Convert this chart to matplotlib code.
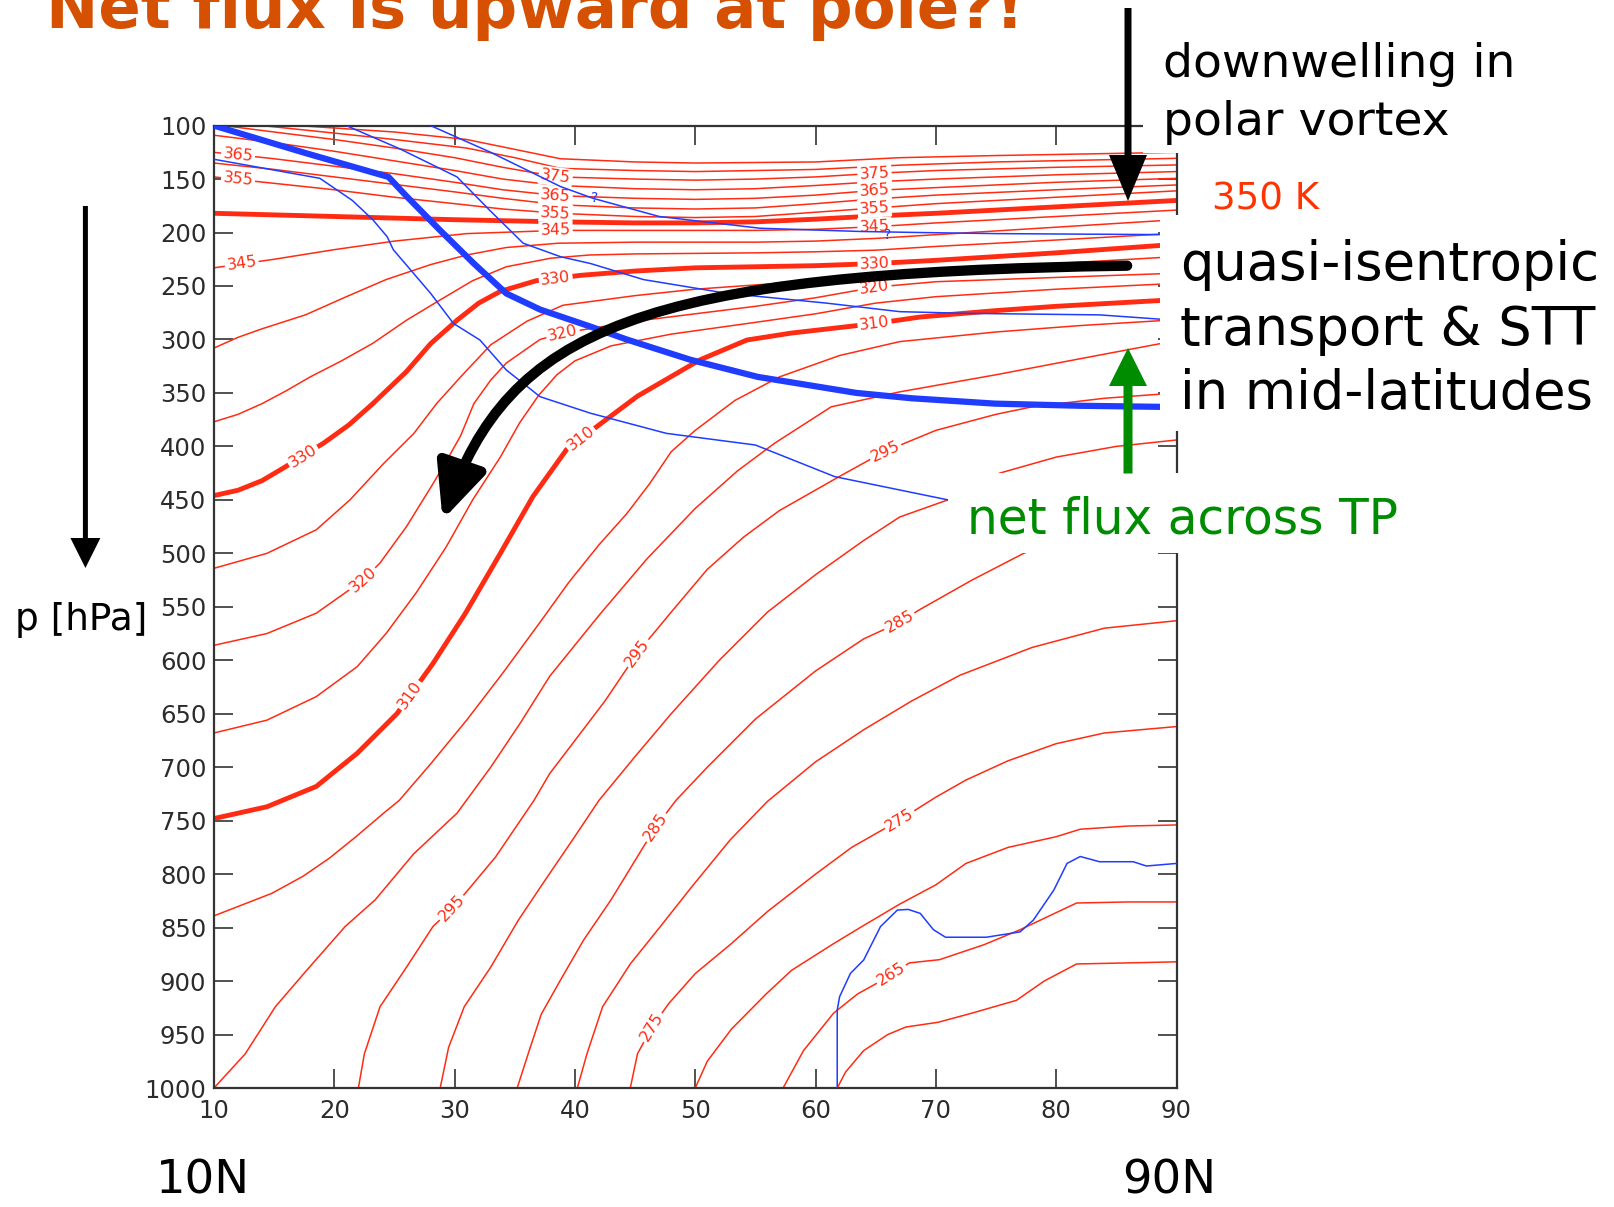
import numpy as np
import matplotlib.pyplot as plt
from matplotlib.path import Path
from matplotlib.patches import FancyArrowPatch, FancyArrow, Rectangle, ArrowStyle
from matplotlib.transforms import Affine2D

# potential temperature (K) contours as (latitude degN, pressure hPa)
theta_385 = [(17, 100), (25, 106), (31, 113), (38.8, 131), (45, 134), (50, 135), (60, 134), (67, 130), (75, 128), (90, 125)]
theta_380 = [(14, 100), (20, 107), (25, 113), (31, 121), (35, 130), (38.8, 140), (45, 142), (50, 143), (60, 141), (67, 137), (75, 134), (90, 130.6)]
theta_375 = [(10.8, 100), (15, 106), (20, 113), (25, 121), (30, 130), (34, 139), (38.6, 148), (45, 150), (50, 151), (55, 150), (60, 148), (65, 144.6), (70, 142), (80, 139), (90, 136.8)]
theta_370 = [(10, 109), (15, 116), (20, 124), (25, 133), (30, 142), (34, 150), (38.6, 156), (45, 159), (50, 160), (55, 159), (60, 156), (65, 152.5), (70, 150), (80, 146), (90, 143)]
theta_365 = [(10, 125), (15, 131), (20, 138), (25, 145), (30, 153), (34, 160), (38.6, 165.5), (45, 168), (50, 169), (55, 168), (60, 165), (65, 160.5), (70, 158), (80, 153), (90, 149.3)]
theta_360 = [(10, 135), (15, 141), (20, 148), (25, 155), (30, 162), (34, 168), (38.6, 174), (45, 177), (50, 178), (55, 177), (60, 173), (65, 168.5), (70, 165), (80, 160), (90, 155.5)]
theta_355 = [(10, 148), (15, 154), (20, 160), (25, 167), (30, 173), (34, 178), (38.6, 182), (45, 185), (50, 186), (55, 185), (60, 181), (65, 177), (70, 173), (80, 167), (90, 161)]
theta_350 = [(10, 182), (15, 183.5), (20, 185), (25, 186.5), (30, 188), (38.6, 190), (45, 191), (50, 191), (55, 190), (60, 187.5), (65, 184.5), (70, 182), (80, 176), (90, 170)]
theta_345 = [(10, 233), (15, 225), (20, 216), (25, 208), (31, 201), (38.6, 198), (45, 198), (50, 198), (55, 198), (60, 197), (65, 194.5), (70, 191), (80, 185), (90, 179)]
theta_340 = [(10, 308), (12, 298), (14, 290), (17.6, 277), (21, 260), (24.3, 244), (28, 230), (31, 221), (34.3, 214), (38.6, 210), (45, 209), (50, 209), (55, 209), (60, 208), (65, 205.5), (70, 202), (80, 195), (90, 188)]
theta_335 = [(10, 377), (12, 370), (14, 360), (16, 348), (18, 335), (20.6, 320), (23.2, 303.6), (26, 282), (28.8, 263), (31.5, 245), (34.3, 232), (38, 224), (41.2, 221), (45, 220), (50, 219.5), (55, 219), (60, 218), (65, 216.5), (70, 213), (80, 207), (90, 200.7)]
theta_330 = [(10, 446), (12, 441), (14, 432), (15.8, 420), (19.1, 397), (21.2, 380), (23.2, 360), (26, 330), (28, 304), (30.2, 282), (32, 266), (33.8, 255), (36.8, 245), (40.5, 240), (45, 236), (50, 233), (55, 232), (60, 231), (65, 229), (70, 226), (80, 219), (90, 211)]
theta_325 = [(10, 514), (14.4, 500), (18.5, 478), (21.3, 450), (24.1, 416), (26.6, 388), (28.5, 360), (30.5, 335), (33, 305), (36, 283), (39, 268), (45, 259), (50, 253), (55, 249), (60, 245), (65, 240), (70, 236), (80, 229), (90, 222.5)]
theta_320 = [(10, 586), (14.4, 575), (18.5, 556), (22.4, 525), (23.8, 509), (26, 475), (28.2, 435), (29.5, 410), (30.5, 390), (31.6, 360), (33, 338), (34.3, 322), (37.1, 300), (39, 294), (45, 283), (50, 276), (55, 269), (60, 261), (65, 251), (70, 246), (80, 242), (90, 238)]
theta_315 = [(10, 668), (14.4, 656), (18.5, 634), (21.9, 606), (24.3, 575), (26.8, 537), (29.3, 494), (31.5, 450), (33.8, 410), (35.4, 378), (37, 352), (38.5, 333), (40, 320), (43, 306), (48, 295), (55, 284), (60, 276), (65, 266), (70, 260), (80, 253), (90, 247.5)]
theta_310 = [(10, 748), (14.4, 737), (18.5, 718), (21.9, 687), (25.2, 650), (28.2, 603), (30.9, 556), (33.8, 500), (36.5, 447), (39.3, 403), (41.4, 385), (45.2, 353), (50.4, 319), (54.3, 300.5), (58, 294), (65, 285), (68.7, 279), (75, 273), (80, 269), (88.6, 263.6), (90, 263)]
theta_305 = [(10, 839), (14.8, 818), (17.4, 802), (19.6, 785), (21.8, 765), (24.1, 743), (25.4, 731), (28, 697), (31, 656), (34, 612), (37, 566), (39.5, 527), (42, 492), (44.3, 463), (46.2, 435), (48, 405), (50, 385), (53.3, 357), (57, 335), (62, 315), (67, 302), (75, 293), (82, 287), (90, 281.5)]
theta_300 = [(10, 1000), (12.6, 968), (15.1, 924), (17.7, 890), (20.9, 849), (23.4, 824), (26.6, 781), (30.2, 743), (33, 700), (35.5, 658), (37.9, 615), (42, 558), (46, 505), (50, 458), (53.5, 423), (56.6, 397), (61.3, 363), (67, 349), (75, 333), (82, 318), (88.6, 304), (90, 303)]
theta_295 = [(22, 1000), (22.5, 968), (23.8, 924), (26, 887), (28.2, 849), (29.8, 832), (31.1, 815), (33.4, 784), (36.6, 731), (37.9, 706), (40, 675), (42.5, 638), (45.2, 593), (48, 555), (51, 515), (54, 485), (57, 460), (62, 428), (65.7, 405), (70, 385), (75, 370), (78, 363), (84, 355), (90, 350)]
theta_290 = [(28.8, 1000), (29.5, 962), (30.8, 924), (33, 887), (35.3, 843), (37.5, 806), (39.8, 768), (42, 731), (45, 690), (48, 650), (52, 600), (56, 555), (60, 520), (64, 488), (67, 466), (71, 450), (75.3, 425), (80, 410), (85, 400), (90, 394)]
theta_285 = [(35.2, 1000), (36.2, 965), (37.2, 931), (38.8, 899), (40.7, 862), (43, 824), (46.7, 756), (48.4, 731), (51, 700), (55, 655), (60, 610), (64, 580), (66.9, 565), (68.6, 553), (73, 525), (77.3, 500), (82, 480), (90, 462)]
theta_280 = [(40.2, 1000), (41, 968), (42.3, 924), (44.6, 884), (47.1, 849), (49.7, 812), (52.9, 768), (56, 732), (60, 695), (64, 665), (68, 638), (72, 614), (78, 588), (84, 570), (90, 563)]
theta_275 = [(44.6, 1000), (45.2, 968), (46.4, 943), (47.8, 921), (50, 893), (53, 865), (56, 835), (60, 800), (63, 775), (66.9, 750), (70, 728), (72.5, 712), (76, 694), (80, 678), (84, 668), (90, 662)]
theta_270 = [(50, 1000), (51, 975), (53, 945), (55.9, 912), (58, 890), (61.5, 865), (64, 848), (67, 828), (70, 810), (72.5, 790), (76, 775), (80, 765), (82, 758), (86, 755), (90, 754)]
theta_265 = [(57.3, 1000), (59, 965), (61.5, 930), (63.5, 912), (65.1, 902), (67.8, 883), (70.3, 880), (74, 866), (77, 852), (80, 836), (81.7, 827), (86, 826), (90, 826)]
theta_260 = [(61.8, 1000), (62.5, 985), (64, 965), (66, 950), (67.5, 943), (70.2, 938.5), (73, 930), (76.7, 918), (79, 900), (81.7, 884), (86, 883), (90, 882)]

# potential vorticity contours
pv_tropopause = [(10, 100), (17.7, 126), (24.5, 148), (26, 166), (28.8, 198), (31.6, 229), (34.3, 257), (37.1, 272), (41.3, 288), (44.3, 300), (49.6, 319), (55.2, 335), (63.4, 350), (68, 355), (74.9, 360), (82, 362), (88.6, 363), (90, 363)]
pv_upper = [(28, 100), (33, 125), (38.8, 157), (41.5, 168), (47, 185), (55.4, 196), (63.7, 199), (68.7, 200), (75, 201), (82, 201.5), (90, 202)]
pv_middle = [(21, 100), (25.5, 122), (30.2, 148), (32.9, 179), (35.7, 210), (38.8, 222.6), (41.3, 229), (45.7, 244), (52.6, 256.8), (60.9, 266), (67, 274), (72.6, 275.6), (83.6, 277), (88.6, 281), (90, 281)]
pv_lower = [(10, 131.5), (18.8, 149.3), (21.5, 170), (23.2, 188), (24.4, 204), (24.9, 216), (28, 256.8), (29.9, 285), (32.1, 300.5), (34.3, 328.6), (37.1, 353.5), (41.3, 369), (47.6, 387.8), (55, 398.7), (61.6, 428.3), (71, 450), (80, 462), (90, 470)]
pv_surface = [(61.8, 1000), (61.8, 927), (62, 914.6), (62.9, 892.8), (64, 880.3), (65.4, 849), (66.8, 833.6), (67.7, 833), (68.7, 836.7), (69.8, 852), (70.8, 859), (74.2, 859), (77, 854), (78.1, 843), (79.8, 815), (80.9, 790), (82, 783.5), (83.6, 788.4), (86.4, 788.4), (87.5, 792.4), (90, 790)]

isentropes = {
    385: theta_385, 380: theta_380, 375: theta_375, 370: theta_370, 365: theta_365,
    360: theta_360, 355: theta_355, 350: theta_350, 345: theta_345, 340: theta_340,
    335: theta_335, 330: theta_330, 325: theta_325, 320: theta_320, 315: theta_315,
    310: theta_310, 305: theta_305, 300: theta_300, 295: theta_295, 290: theta_290,
    285: theta_285, 280: theta_280, 275: theta_275, 270: theta_270, 265: theta_265,
    260: theta_260,
}
thick_levels = [350, 330, 310]

# contour label spots: (level, latitude)
label_spots = [
    (365, 12.0), (355, 12.0), (345, 12.3),
    (375, 38.4), (365, 38.4), (355, 38.4), (345, 38.4), (330, 38.4),
    (375, 64.9), (365, 64.9), (355, 64.9), (345, 64.9), (330, 64.9), (320, 64.9), (310, 64.9),
    (320, 39.0), (330, 17.4), (320, 22.4), (310, 26.3), (310, 40.5),
    (295, 29.8), (295, 45.2), (295, 65.8),
    (285, 46.7), (285, 67.0), (275, 46.4), (275, 67.0), (265, 66.3),
]

lat_ticks = np.arange(10, 91, 10)
p_ticks = np.arange(100, 1001, 50)

RED = '#ff2b12'
BLUE = '#1f3cff'
GREEN = '#008c00'
W, H = 1614, 1207

fig = plt.figure(figsize=(W / 100, H / 100), dpi=100, facecolor='white')
ax = fig.add_axes([214 / W, 1 - 1088 / H, 962.5 / W, 962.4 / H])
ax.set_xlim(10, 90)
ax.set_ylim(1000, 100)
ax.set_xticks(lat_ticks)
ax.set_yticks(p_ticks)
ax.tick_params(direction='in', length=13.5, width=1.2, top=True, right=True,
               labelsize=17.5, colors='#2b2b2b', color='#333333')
ax.tick_params(axis='x', pad=8)
ax.tick_params(axis='y', pad=5.5)
for s in ax.spines.values():
    s.set_linewidth(1.6)
    s.set_color('#333333')

for lev, line in isentropes.items():
    lat, p = np.array(line).T
    lw = 3.5 if lev in thick_levels else 1.1
    ax.plot(lat, p, color=RED, lw=lw, zorder=2, solid_capstyle='butt')

for lev, lat0 in label_spots:
    lat, p = np.array(isentropes[lev]).T
    p0 = np.interp(lat0, lat, p)
    d = 0.5
    a, b = ax.transData.transform([(lat0 - d, np.interp(lat0 - d, lat, p)),
                                   (lat0 + d, np.interp(lat0 + d, lat, p))])
    ang = np.degrees(np.arctan2(b[1] - a[1], b[0] - a[0]))
    ax.text(lat0, p0, str(lev), color=RED, fontsize=11.5, rotation=ang,
            rotation_mode='anchor', ha='center', va='center', zorder=3,
            bbox=dict(boxstyle='square,pad=0.12', fc='white', ec='none'))

for line, lw in [(pv_upper, 1.1), (pv_middle, 1.1), (pv_lower, 1.1),
                 (pv_surface, 1.1), (pv_tropopause, 4.5)]:
    lat, p = np.array(line).T
    ax.plot(lat, p, color=BLUE, lw=lw, zorder=4)

for lat0, p0 in [(41.6, 168), (66.0, 202)]:
    ax.text(lat0, p0, '?', color=BLUE, fontsize=10, ha='center', va='center', zorder=4)

# curved transport arrow
verts = [(85.9, 231), (45.25, 237.6), (34.5, 290), (29.0, 468.7)]
curve = Path(verts, [Path.MOVETO, Path.CURVE4, Path.CURVE4, Path.CURVE4])
ax.add_patch(FancyArrowPatch(path=curve, arrowstyle=ArrowStyle('-|>', head_length=33, head_width=15),
                             mutation_scale=1, lw=7.4, color='black', zorder=6, clip_on=False))

# pixel coordinates measured from the top-left corner of the figure
px = Affine2D().scale(1 / W, -1 / H).translate(0, 1) + fig.transFigure

for x0, y0, x1, y1 in [(1143, 0, W, 153), (1160, 215, W, 431), (948, 473, 1400, 553)]:
    fig.add_artist(Rectangle((x0, y0), x1 - x0, y1 - y0, transform=px,
                             fc='white', ec='none', zorder=5))

def arrow(x, y0, y1, width, head_w, head_l, color):
    fig.add_artist(FancyArrow(x, y0, 0, y1 - y0, width=width, head_width=head_w,
                              head_length=head_l, length_includes_head=True,
                              transform=px, color=color, zorder=10, lw=0))

arrow(85.4, 206, 568, 5, 30, 30, 'black')
arrow(1128, 8, 201, 7, 38, 46, 'black')
arrow(1128, 473.5, 348, 9, 38, 38, GREEN)

def label(x, y, s, size, color='black', weight='normal'):
    fig.text(x, y, s, transform=px, fontsize=size, color=color, weight=weight,
             ha='left', va='baseline', zorder=10)

label(46, 28, 'Net flux is upward at pole?!', 45, '#d55000', 'bold')
label(1163, 77, 'downwelling in', 34)
label(1163, 135, 'polar vortex', 34)
label(1212, 209, '350 K', 26.7, '#ff3300')
label(1180, 280, 'quasi-isentropic', 38)
label(1180, 345, 'transport & STT', 38)
label(1180, 409, 'in mid-latitudes', 38)
label(967, 533, 'net flux across TP', 35, GREEN)
label(15, 630, 'p [hPa]', 27)
label(156, 1194, '10N', 33.5)
label(1122, 1194, '90N', 33.5)

fig.savefig('out.png', dpi=100, facecolor='white')
